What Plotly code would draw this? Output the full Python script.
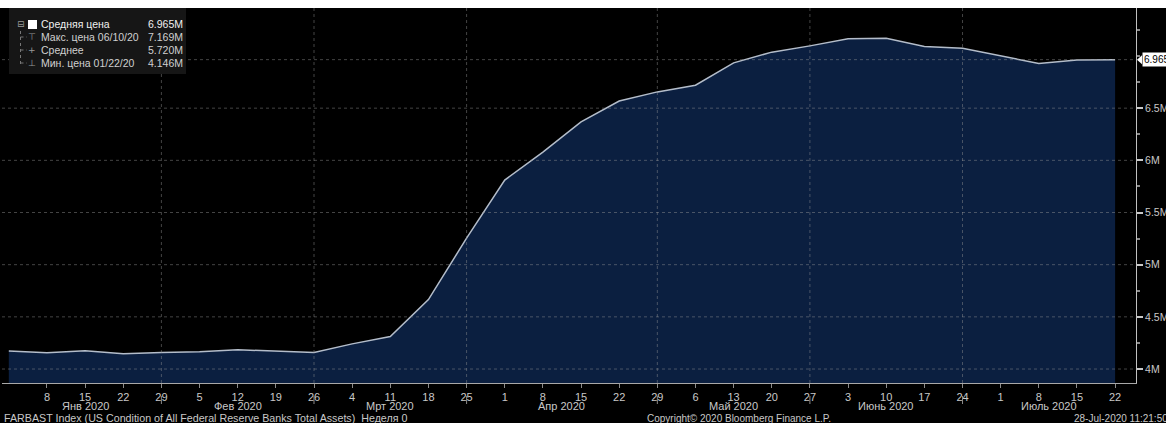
import plotly.graph_objects as go
import pandas as pd

# ---------------- data ----------------
dates = ["2020-01-01", "2020-01-08", "2020-01-15", "2020-01-22", "2020-01-29",
         "2020-02-05", "2020-02-12", "2020-02-19", "2020-02-26",
         "2020-03-04", "2020-03-11", "2020-03-18", "2020-03-25",
         "2020-04-01", "2020-04-08", "2020-04-15", "2020-04-22", "2020-04-29",
         "2020-05-06", "2020-05-13", "2020-05-20", "2020-05-27",
         "2020-06-03", "2020-06-10", "2020-06-17", "2020-06-24",
         "2020-07-01", "2020-07-08", "2020-07-15", "2020-07-22"]
total_assets = [4173626, 4155000, 4175000, 4146000, 4158000,
                4165000, 4185000, 4171000, 4158000,
                4241000, 4311000, 4666000, 5254000,
                5811000, 6079000, 6368000, 6569000, 6656000,
                6720000, 6934000, 7037000, 7097000,
                7165000, 7169000, 7092000, 7075000,
                7004000, 6928000, 6962000, 6965000]
month_sep_dates = ["2020-01-29", "2020-02-26", "2020-03-25", "2020-04-29",
                   "2020-05-27", "2020-06-24"]
month_labels = ["Янв 2020", "Фев 2020", "Мрт 2020", "Апр 2020",
                "Май 2020", "Июнь 2020", "Июль 2020"]
y_tick_vals = [4000000, 4500000, 5000000, 5500000, 6000000, 6500000]
y_tick_text = ["4M", "4.5M", "5M", "5.5M", "6M", "6.5M"]
y_minor_vals = [4250000, 4750000, 5250000, 5750000, 6250000, 6750000, 7000000, 7250000]
x_range = ["2019-12-30 18:00", "2020-07-25 20:00"]
y_range = [3866000, 7460000]

footer_left = "FARBAST Index (US Condition of All Federal Reserve Banks Total Assets)&nbsp;&nbsp;Неделя 0"
footer_mid = "Copyright\u00a9 2020 Bloomberg Finance L.P."
footer_right = "28-Jul-2020 11:21:50"

# ---------------- geometry helpers ----------------
# page is 1166x423: an 8px white strip on top, the figure (1166x415) below it
TOP = 8
W, H = 1166, 423 - TOP
ML, MR, MT, MB = 2, 30, 0, 40
PW, PH = W - ML - MR, H - MT - MB
BOTTOM = TOP + H - MB  # page y of the x axis


def px(x):
    return (x - ML) / PW


def py(y):
    return (BOTTOM - y) / PH


TXT = "#c8c8c8"
FONT = "Liberation Sans"
GRID = "rgba(150,150,150,0.45)"

d = pd.to_datetime(dates)
s = pd.Series(total_assets, index=d)

fig = go.Figure()
fig.add_trace(go.Scatter(
    x=dates, y=total_assets, mode="lines",
    line=dict(color="#b4bdca", width=1.5),
    fill="tozeroy", fillcolor="#0b1f40",
    hoverinfo="skip", showlegend=False,
))

shapes = []
for m in month_sep_dates:
    shapes.append(dict(type="line", xref="x", yref="paper", x0=m, x1=m, y0=0, y1=1,
                       line=dict(color=GRID, width=1, dash="dot"), layer="above"))
for v in y_tick_vals + [total_assets[-1]]:
    shapes.append(dict(type="line", xref="paper", yref="y", x0=0, x1=1, y0=v, y1=v,
                       line=dict(color=GRID, width=1, dash="dot"), layer="above"))
for m in month_sep_dates:
    shapes.append(dict(type="line", xref="x", yref="paper", x0=m, x1=m,
                       y0=py(396), y1=py(404),
                       line=dict(color="#8a8a8a", width=1), layer="above"))
shapes.append(dict(type="rect", xref="paper", yref="paper", x0=px(9), x1=px(186),
                   y0=py(74), y1=py(8), fillcolor="#161616", line=dict(width=0), layer="above"))
shapes.append(dict(type="rect", xref="paper", yref="paper", x0=px(28), x1=px(37),
                   y0=py(29), y1=py(20), fillcolor="white", line=dict(width=0), layer="above"))
shapes.append(dict(type="line", xref="paper", yref="paper", x0=px(20.5), x1=px(20.5),
                   y0=py(64), y1=py(29), line=dict(color="#777", width=1, dash="dot"), layer="above"))
for ry in (37, 50, 63):
    shapes.append(dict(type="line", xref="paper", yref="paper", x0=px(20.5), x1=px(27),
                       y0=py(ry), y1=py(ry), line=dict(color="#777", width=1, dash="dot"), layer="above"))
last = total_assets[-1]
hh = 4.5 * (y_range[1] - y_range[0]) / PH
shapes.append(dict(type="path", xref="paper", yref="y",
                   path=f"M {px(1137)} {last} L {px(1142)} {last + hh} L {px(1142)} {last - hh} Z",
                   fillcolor="white", line=dict(width=0), layer="above"))

ann = []
bounds = [d[0]] + list(pd.to_datetime(month_sep_dates)) + [pd.Timestamp(x_range[1])]
for i, lab in enumerate(month_labels):
    mid = bounds[i] + (bounds[i + 1] - bounds[i]) / 2
    ann.append(dict(x=mid, xref="x", y=py(406), yref="paper", text=lab, showarrow=False,
                    font=dict(color=TXT, size=11, family=FONT), xanchor="center", yanchor="middle"))
ann.append(dict(x=px(2), xref="paper", y=py(418), yref="paper", text=footer_left, showarrow=False,
                font=dict(color=TXT, size=10.7, family=FONT), xanchor="left", yanchor="middle"))
ann.append(dict(x=px(645), xref="paper", y=py(418), yref="paper", text=footer_mid, showarrow=False,
                font=dict(color=TXT, size=10, family=FONT), xanchor="left", yanchor="middle"))
ann.append(dict(x=px(1072), xref="paper", y=py(418), yref="paper", text=footer_right, showarrow=False,
                font=dict(color=TXT, size=10, family=FONT), xanchor="left", yanchor="middle"))

imax = s.idxmax()
imin = s.idxmin()
rows = [
    ("Средняя цена", f"{last / 1e6:.3f}M", "#f0f0f0"),
    (f"Макс. цена {imax.strftime('%m/%d/%y')}", f"{s.max() / 1e6:.3f}M", "#d0d0d0"),
    ("Среднее", f"{s.mean() / 1e6:.3f}M", "#d0d0d0"),
    (f"Мин. цена {imin.strftime('%m/%d/%y')}", f"{s.min() / 1e6:.3f}M", "#d0d0d0"),
]
row_y = [24, 37, 50, 63]
icons = [None, "⊤", "+", "⊥"]
for (lab, val, col), ry, ic in zip(rows, row_y, icons):
    ann.append(dict(x=px(39), xref="paper", y=py(ry), yref="paper", text=lab, showarrow=False,
                    font=dict(color=col, size=10.5, family=FONT), xanchor="left", yanchor="middle"))
    ann.append(dict(x=px(185), xref="paper", y=py(ry), yref="paper", text=val, showarrow=False,
                    font=dict(color=col, size=10.5, family=FONT), xanchor="right", yanchor="middle"))
    if ic:
        ann.append(dict(x=px(32), xref="paper", y=py(ry), yref="paper", text=ic, showarrow=False,
                        font=dict(color="#999", size=9, family="DejaVu Sans"), xanchor="center", yanchor="middle"))
ann.append(dict(x=px(20.5), xref="paper", y=py(24), yref="paper", text="⊟", showarrow=False,
                font=dict(color="#999", size=9, family="DejaVu Sans"), xanchor="center", yanchor="middle"))
ann.append(dict(x=px(1142), xref="paper", y=last, yref="y", text=f"{last / 1e6:.3f}", showarrow=False,
                bgcolor="white", borderpad=1, font=dict(color="black", size=10, family=FONT),
                xanchor="left", yanchor="middle"))

fig.update_layout(
    width=W, height=H,
    margin=dict(l=ML, r=MR, t=MT, b=MB, autoexpand=False),
    paper_bgcolor="black", plot_bgcolor="black",
    shapes=shapes, annotations=ann,
    showlegend=False,
    xaxis=dict(
        range=x_range, type="date", automargin=False,
        tickmode="array", tickvals=dates[1:],
        ticktext=[str(x.day) for x in d[1:]],
        ticks="outside", ticklen=4, tickcolor="#8a8a8a",
        tickfont=dict(color=TXT, size=11, family=FONT),
        showgrid=False, zeroline=False,
        showline=True, linecolor="#a8a8a8", linewidth=1,
    ),
    yaxis=dict(
        range=y_range, side="right", automargin=False,
        tickmode="array", tickvals=y_tick_vals, ticktext=y_tick_text,
        ticks="outside", ticklen=6, tickwidth=2, tickcolor="#c8c8c8",
        minor=dict(tickmode="array", tickvals=y_minor_vals, ticks="outside",
                   ticklen=3, tickcolor="#8a8a8a", showgrid=False),
        tickfont=dict(color=TXT, size=10.5, family=FONT),
        showgrid=False, zeroline=False,
        showline=True, linecolor="#c0c0c0", linewidth=1,
    ),
)

fig.write_html(
    "out.html",
    config={"displayModeBar": False},
    post_script=(
        "document.body.style.margin='0';"
        f"document.body.style.padding='{TOP}px 0 0 0';"
        "document.body.style.overflow='hidden';"
        "document.body.style.background='white';"
    ),
)
